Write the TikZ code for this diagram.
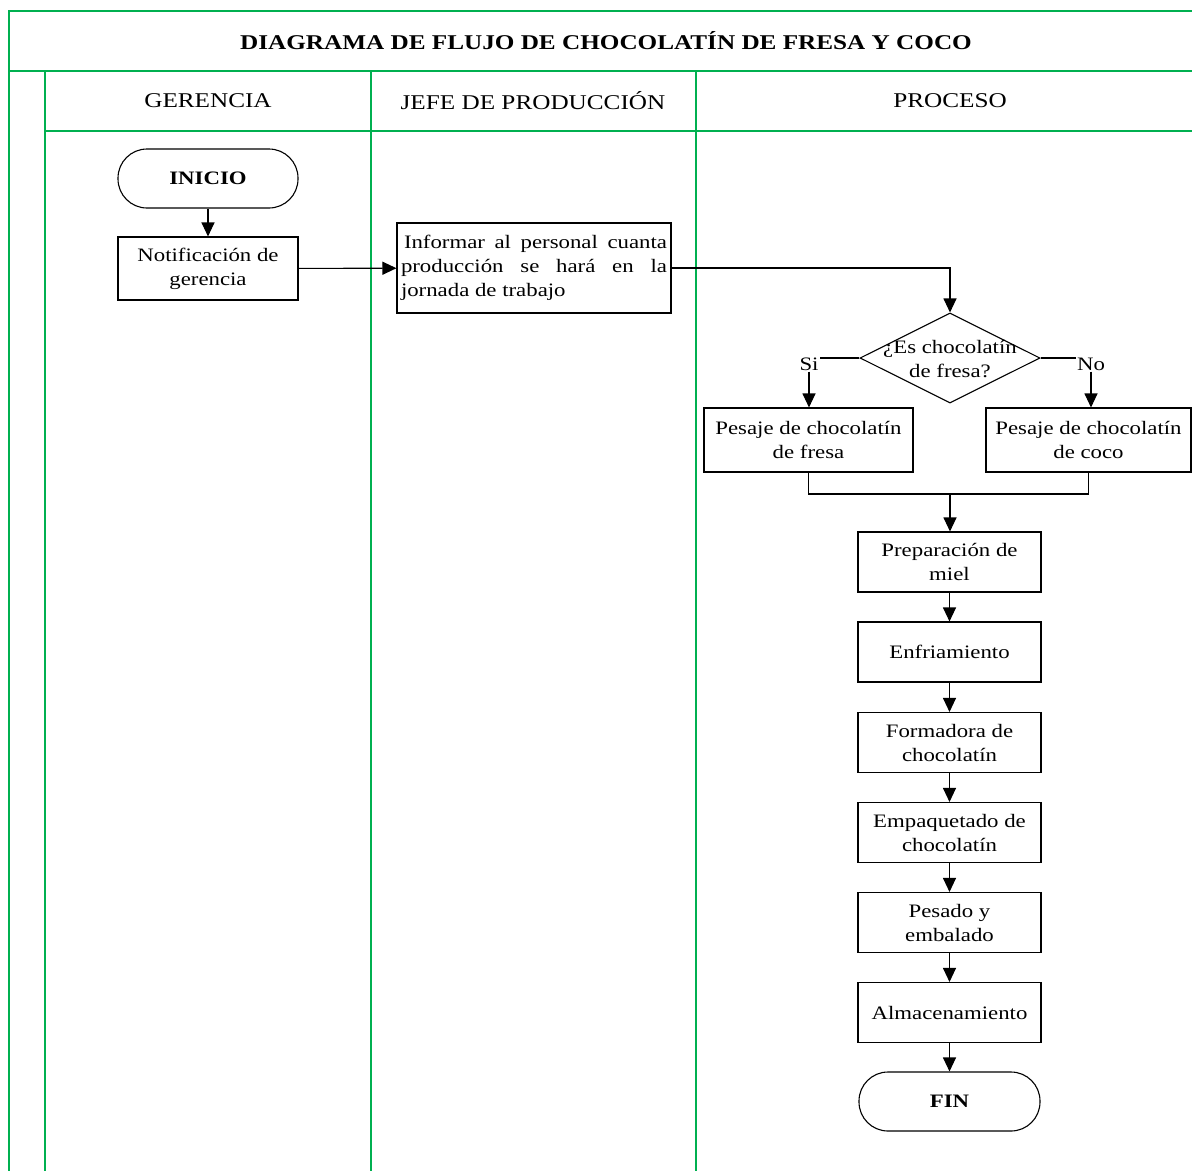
\documentclass[tikz,border=0pt]{standalone}
\usepackage{fontspec}
\setmainfont{Liberation Serif}[FakeStretch=1.2]
\usetikzlibrary{arrows.meta,shapes.geometric}
\definecolor{lanegreen}{RGB}{0,176,80}
\begin{document}
\begin{tikzpicture}[x=1pt,y=-1pt,
  lane/.style={draw=lanegreen,line width=1.4pt},
  proc/.style={draw,line width=1.1pt,fill=white,font=\fontsize{19}{24}\selectfont,align=center,inner sep=2pt},
  term/.style={proc,rounded corners=29pt,font=\fontsize{19}{24}\selectfont\bfseries},
  decision/.style={draw,line width=1.1pt,diamond,inner sep=0pt,minimum width=180pt,minimum height=90pt},
  flow/.style={line width=1.1pt,-{Triangle[length=14pt,width=13pt]}},
  link/.style={line width=1.1pt},
  hdr/.style={font=\fontsize{21}{25}\selectfont},
  lbl/.style={font=\fontsize{19}{24}\selectfont,inner sep=1pt},
]
\useasboundingbox (0,0) rectangle (1192,1171);

% swimlane frame
\draw[lane] (1192,11) -- (9,11) -- (9,1171);
\draw[lane] (9,71) -- (1192,71);
\draw[lane] (45,71) -- (45,1171);
\draw[lane] (45,131) -- (1192,131);
\draw[lane] (371,71) -- (371,1171);
\draw[lane] (696,71) -- (696,1171);

% title and lane headers
\node[font=\fontsize{21}{25}\selectfont\bfseries] (title) at (606,41) {DIAGRAMA DE FLUJO DE CHOCOLATÍN DE FRESA Y COCO};
\node[hdr] (hger) at (208,101) {GERENCIA};
\node[hdr] (hjefe) at (533,101) {JEFE DE PRODUCCIÓN};
\node[hdr] (hproc) at (950,101) {PROCESO};

% flow nodes
\node[term,minimum width=180pt,minimum height=59pt] (inicio) at (208,178.5) {INICIO};
\node[proc,minimum width=180pt,minimum height=63pt] (notif) at (208,268.5) {Notificación de\\gerencia};
\node[proc,inner sep=4pt,text width=266pt,minimum height=90pt,align=justify] (inform) at (534,268)
  {\hspace*{3pt}Informar al personal cuanta\linebreak producción se hará en la\linebreak jornada de trabajo};
\node[decision] (dec) at (950,358) {};
\node[lbl,align=center] (dectext) at (950,359) {¿Es chocolatín\\de fresa?};
\node[lbl] (si) at (809,364) {Si};
\node[lbl] (no) at (1091,364) {No};
\node[proc,minimum width=209pt,minimum height=64pt] (fresa) at (808.5,440) {Pesaje de chocolatín\\de fresa};
\node[proc,minimum width=205pt,minimum height=64pt] (coco) at (1088.5,440) {Pesaje de chocolatín\\de coco};
\coordinate (merge) at (950,494);
\node[proc,minimum width=183pt,minimum height=60pt] (prep) at (949.5,562) {Preparación de\\miel};
\node[proc,minimum width=183pt,minimum height=60pt] (enfr) at (949.5,652) {Enfriamiento};
\node[proc,minimum width=183pt,minimum height=60pt] (form) at (949.5,742.5) {Formadora de\\chocolatín};
\node[proc,minimum width=183pt,minimum height=60pt] (empq) at (949.5,832.5) {Empaquetado de\\chocolatín};
\node[proc,minimum width=183pt,minimum height=60pt] (pesd) at (949.5,922.5) {Pesado y\\embalado};
\node[proc,minimum width=183pt,minimum height=60pt] (alma) at (949.5,1012.5) {Almacenamiento};
\node[term,minimum width=181pt,minimum height=59pt] (fin) at (949.5,1101.5) {FIN};

% connectors
\draw[flow] (inicio) -- (notif);
\draw[flow] (notif) -- (inform);
\draw[flow] (inform.east) -| (dec.north);
\draw[link] (dec.west) -- (dec.west -| si.east);
\draw[link] (dec.east) -- (dec.east -| no.west);
\draw[flow] (si.south) -- (si.south |- fresa.north);
\draw[flow] (no.south) -- (no.south |- coco.north);
\draw[link] (fresa.south) |- (merge);
\draw[link] (coco.south) |- (merge);
\draw[flow] (merge) -- (merge |- prep.north);
\draw[flow] (prep) -- (enfr);
\draw[flow] (enfr) -- (form);
\draw[flow] (form) -- (empq);
\draw[flow] (empq) -- (pesd);
\draw[flow] (pesd) -- (alma);
\draw[flow] (alma) -- (fin);
\end{tikzpicture}
\end{document}
